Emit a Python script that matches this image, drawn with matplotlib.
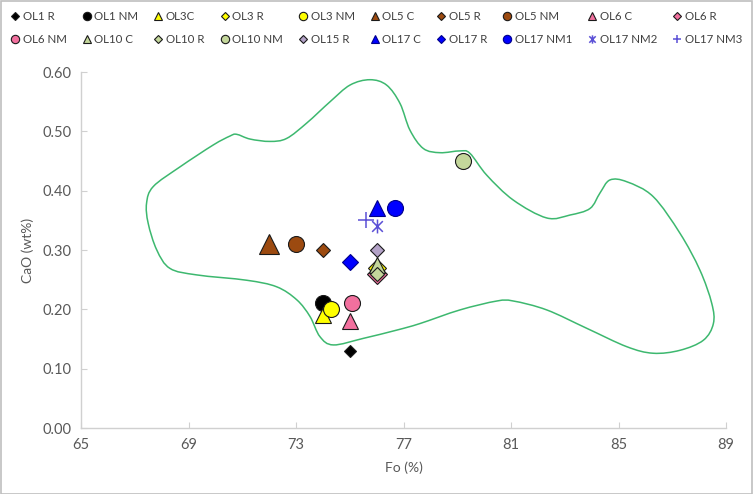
import matplotlib
matplotlib.use("Agg")
import matplotlib.pyplot as plt
from matplotlib.patches import Rectangle, PathPatch
from matplotlib.path import Path

plt.rcParams['font.family'] = ['Lato', 'DejaVu Sans']

# ---- data ----
names = ["OL1 R", "OL1 NM", "OL3C", "OL3 R", "OL3 NM", "OL5 C", "OL5 R", "OL5 NM",
         "OL6 C", "OL6 R", "OL6 NM", "OL10 C", "OL10 R", "OL10 NM", "OL15 R",
         "OL17 C", "OL17 R", "OL17 NM1", "OL17 NM2", "OL17 NM3"]
fo = [75.0, 74.0, 74.0, 76.0, 74.3, 72.0, 74.0, 73.0,
      75.0, 76.0, 75.1, 76.0, 76.0, 79.2, 76.0,
      76.0, 75.0, 76.7, 76.0, 75.6]
cao = [0.13, 0.21, 0.19, 0.27, 0.20, 0.31, 0.30, 0.31,
       0.18, 0.26, 0.21, 0.275, 0.26, 0.45, 0.30,
       0.37, 0.28, 0.37, 0.34, 0.35]

# envelope (green outline), traced points of a closed smoothed curve
env_x = [67.44, 67.69, 68.68, 69.92, 70.54, 70.79, 71.29, 72.03, 72.65, 73.40,
         74.27, 75.01, 75.75, 76.37, 76.87, 77.24, 77.74, 78.36, 79.10, 79.47,
         80.10, 81.09, 82.33, 83.20, 83.94, 84.31, 84.68, 85.31, 86.29, 87.29,
         88.03, 88.47, 88.53, 88.16, 87.29, 86.29, 85.31, 83.82, 82.33, 81.09,
         80.47, 79.10, 77.61, 76.75, 75.50, 74.39, 73.89, 73.52, 73.03, 72.28,
         71.17, 69.31, 68.31, 67.82, 67.50]
env_y = [0.379, 0.407, 0.440, 0.477, 0.492, 0.495, 0.487, 0.483, 0.488, 0.514,
         0.550, 0.578, 0.587, 0.578, 0.547, 0.502, 0.471, 0.464, 0.467, 0.463,
         0.426, 0.384, 0.354, 0.359, 0.370, 0.396, 0.418, 0.415, 0.390, 0.328,
         0.266, 0.210, 0.176, 0.148, 0.131, 0.126, 0.137, 0.168, 0.199, 0.214,
         0.214, 0.199, 0.176, 0.165, 0.151, 0.140, 0.154, 0.188, 0.216, 0.238,
         0.249, 0.258, 0.269, 0.300, 0.345]

x_ticks = [65, 69, 73, 77, 81, 85, 89]
y_ticks = [0.0, 0.1, 0.2, 0.3, 0.4, 0.5, 0.6]

# ---- styles ----
BLACK = "#000000"
YEL = "#FFFF00"
BRN = "#9C4A10"
PNK = "#F2709E"
GRN = "#C4D79B"
LAV = "#B3A2C7"
BLU = "#0000FF"
PUR = "#5B50D6"

# Excel-style asterisk: an "x" plus a vertical bar
ASTER = Path([(-1, -1), (1, 1), (-1, 1), (1, -1), (0, -1.3), (0, 1.3)],
             [Path.MOVETO, Path.LINETO, Path.MOVETO, Path.LINETO, Path.MOVETO, Path.LINETO])

styles = [
    dict(marker="D", color=BLACK, ms=6.3),
    dict(marker="o", color=BLACK, ms=11.5),
    dict(marker="^", color=YEL, ms=11),
    dict(marker="D", color=YEL, ms=9.5),
    dict(marker="o", color=YEL, ms=11.5),
    dict(marker="^", color=BRN, ms=14.5),
    dict(marker="D", color=BRN, ms=7.6),
    dict(marker="o", color=BRN, ms=11.5),
    dict(marker="^", color=PNK, ms=11),
    dict(marker="D", color=PNK, ms=9.8),
    dict(marker="o", color=PNK, ms=11.5),
    dict(marker="^", color=GRN, ms=11),
    dict(marker="D", color=GRN, ms=7.2),
    dict(marker="o", color=GRN, ms=11.5),
    dict(marker="D", color=LAV, ms=7.6),
    dict(marker="^", color=BLU, ms=11),
    dict(marker="D", color=BLU, ms=7.8),
    dict(marker="o", color=BLU, ms=11.5),
    dict(marker=ASTER, color=PUR, ms=10, line=True),
    dict(marker="+", color=PUR, ms=11, line=True),
]

fig = plt.figure(figsize=(7.54, 4.94), dpi=100)
ax = fig.add_axes([81/754, 1-428/494, (726-81)/754, (428-72)/494])

# smooth closed curve through the traced points (Catmull-Rom as cubic Bezier)
n = len(env_x)
verts = [(env_x[0], env_y[0])]
codes = [Path.MOVETO]
for i in range(n):
    p0 = (env_x[i - 1], env_y[i - 1])
    p1 = (env_x[i], env_y[i])
    p2 = (env_x[(i + 1) % n], env_y[(i + 1) % n])
    p3 = (env_x[(i + 2) % n], env_y[(i + 2) % n])
    c1 = (p1[0] + (p2[0] - p0[0]) / 6, p1[1] + (p2[1] - p0[1]) / 6)
    c2 = (p2[0] - (p3[0] - p1[0]) / 6, p2[1] - (p3[1] - p1[1]) / 6)
    verts += [c1, c2, p2]
    codes += [Path.CURVE4] * 3
ax.add_patch(PathPatch(Path(verts, codes), fill=False, edgecolor="#3DB86F",
                       lw=1.1, zorder=1))

handles = []
for i, (nm, s) in enumerate(zip(names, styles)):
    if s.get("line"):
        h, = ax.plot([fo[i]], [cao[i]], linestyle="none", marker=s["marker"],
                     ms=s["ms"], color=s["color"], mew=1.1, label=nm, zorder=3+i)
    else:
        ec = "#1A1A1A" if s["color"] != BLU else "#00008B"
        h, = ax.plot([fo[i]], [cao[i]], linestyle="none", marker=s["marker"],
                     ms=s["ms"], markerfacecolor=s["color"], markeredgecolor=ec,
                     mew=0.8, label=nm, zorder=3+i)
    handles.append(h)

ax.set_xlim(65, 89)
ax.set_ylim(0, 0.6)
ax.set_xticks(x_ticks)
ax.set_yticks(y_ticks)
ax.set_yticklabels([f"{v:.2f}" for v in y_ticks])
for sp in ["top", "right"]:
    ax.spines[sp].set_visible(False)
for sp in ["left", "bottom"]:
    ax.spines[sp].set_color("#D0D0D0")
    ax.spines[sp].set_linewidth(1.0)
ax.tick_params(direction="in", length=4, color="#D0D0D0", labelcolor="#595959",
               labelsize=10.5, pad=7)
ax.set_xlabel("Fo (%)", color="#595959", fontsize=10, labelpad=7)
ax.set_ylabel("CaO (wt%)", color="#595959", fontsize=10, labelpad=6)

# legend filled row by row (matplotlib fills column-wise)
order = []
for j in range(10):
    order += [j, j + 10]
leg = fig.legend(handles=[handles[k] for k in order], ncol=10, loc="upper left",
                 bbox_to_anchor=(0.005, 0.995, 0.99, 0.0), mode="expand",
                 frameon=False, fontsize=8.3, handlelength=0.6, handletextpad=0.35,
                 columnspacing=0.5, labelspacing=1.05, borderaxespad=0.3,
                 labelcolor="#404040")
for lh in leg.legend_handles:
    m = lh.get_marker()
    if isinstance(m, str) and m == "D":
        lh.set_markersize(4)
    else:
        lh.set_markersize(6)

fig.patches.append(Rectangle((0.001, 0.001), 0.997, 0.997, transform=fig.transFigure,
                             fill=False, edgecolor="#BFBFBF", lw=1.2))

fig.savefig("out.png", dpi=100)
